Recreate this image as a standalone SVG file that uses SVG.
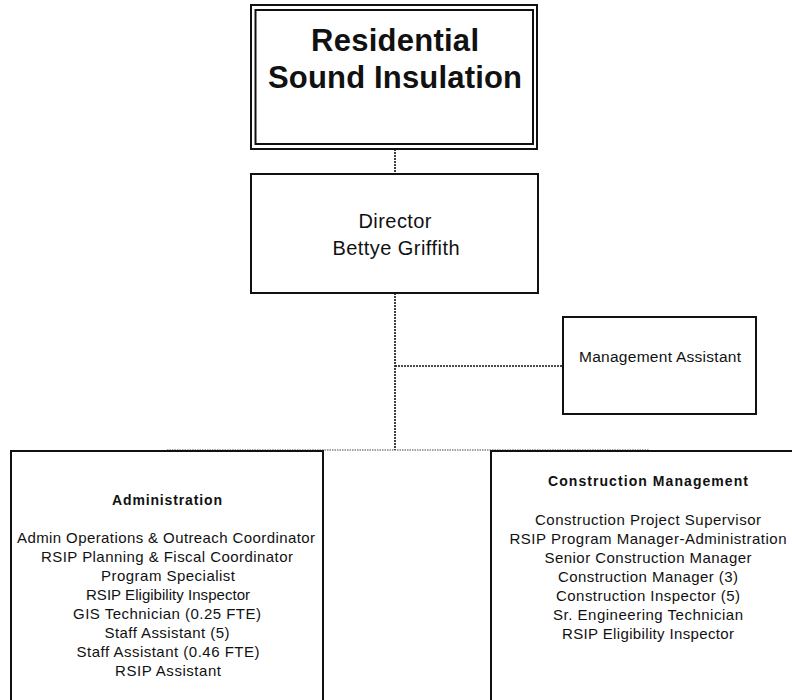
<svg xmlns="http://www.w3.org/2000/svg" width="792" height="700" viewBox="0 0 792 700">
<style>
.box{fill:#fff;stroke:#111;stroke-width:2}
.conn{fill:none;stroke:#111;stroke-width:1.6;stroke-dasharray:2 1}
.connh{fill:none;stroke:#444;stroke-width:1.2;stroke-dasharray:1.5 1}
text{font-family:"Liberation Sans",Arial,sans-serif;fill:#111;text-anchor:middle}
.title{font-size:31px;font-weight:bold}
.dir{font-size:20px}
.ma{font-size:15.5px}
.head{font-size:14px;font-weight:bold}
.item{font-size:15px}
</style>
<rect width="792" height="700" fill="#fff"/>
<g id="connectors">
<line class="conn" x1="395" y1="149" x2="395" y2="174"/>
<line class="conn" x1="395" y1="293" x2="395" y2="450"/>
<line class="conn" x1="395" y1="366" x2="563" y2="366"/>
<line class="connh" x1="167" y1="450" x2="649" y2="450"/>
</g>
<g id="title">
<rect class="box" x="251" y="5" width="286" height="144"/>
<rect class="box" x="255.5" y="10" width="277.5" height="134"/>
<text class="title" x="395" y="51" textLength="168" lengthAdjust="spacing">Residential</text>
<text class="title" x="395" y="88" textLength="254" lengthAdjust="spacing">Sound Insulation</text>
</g>
<g id="director">
<rect class="box" x="251" y="174" width="287" height="119"/>
<text class="dir" x="395" y="228" textLength="73" lengthAdjust="spacing">Director</text>
<text class="dir" x="396" y="255" textLength="127" lengthAdjust="spacing">Bettye Griffith</text>
</g>
<g id="management-assistant">
<rect class="box" x="563" y="317" width="193" height="97"/>
<text class="ma" x="660" y="362" textLength="162" lengthAdjust="spacing">Management Assistant</text>
</g>
<g id="administration">
<rect class="box" x="11" y="451" width="312" height="270"/>
<text class="head" x="167" y="505" textLength="110" lengthAdjust="spacing">Administration</text>
<text class="item" x="166" y="543" textLength="298" lengthAdjust="spacing">Admin Operations &amp; Outreach Coordinator</text>
<text class="item" x="167" y="562" textLength="252" lengthAdjust="spacing">RSIP Planning &amp; Fiscal Coordinator</text>
<text class="item" x="168" y="581" textLength="134" lengthAdjust="spacing">Program Specialist</text>
<text class="item" x="168" y="600" textLength="164" lengthAdjust="spacing">RSIP Eligibility Inspector</text>
<text class="item" x="167" y="619" textLength="188" lengthAdjust="spacing">GIS Technician (0.25 FTE)</text>
<text class="item" x="167" y="638" textLength="125" lengthAdjust="spacing">Staff Assistant (5)</text>
<text class="item" x="168" y="657" textLength="183" lengthAdjust="spacing">Staff Assistant (0.46 FTE)</text>
<text class="item" x="168" y="676" textLength="106" lengthAdjust="spacing">RSIP Assistant</text>
</g>
<g id="construction-management">
<rect class="box" x="491" y="451" width="316" height="270"/>
<text class="head" x="648" y="486" textLength="200" lengthAdjust="spacing">Construction Management</text>
<text class="item" x="648" y="525" textLength="226" lengthAdjust="spacing">Construction Project Supervisor</text>
<text class="item" x="648" y="544" textLength="277" lengthAdjust="spacing">RSIP Program Manager-Administration</text>
<text class="item" x="648" y="563" textLength="207" lengthAdjust="spacing">Senior Construction Manager</text>
<text class="item" x="648" y="582" textLength="180" lengthAdjust="spacing">Construction Manager (3)</text>
<text class="item" x="648" y="601" textLength="184" lengthAdjust="spacing">Construction Inspector (5)</text>
<text class="item" x="648" y="620" textLength="190" lengthAdjust="spacing">Sr. Engineering Technician</text>
<text class="item" x="648" y="639" textLength="172" lengthAdjust="spacing">RSIP Eligibility Inspector</text>
</g>
</svg>
